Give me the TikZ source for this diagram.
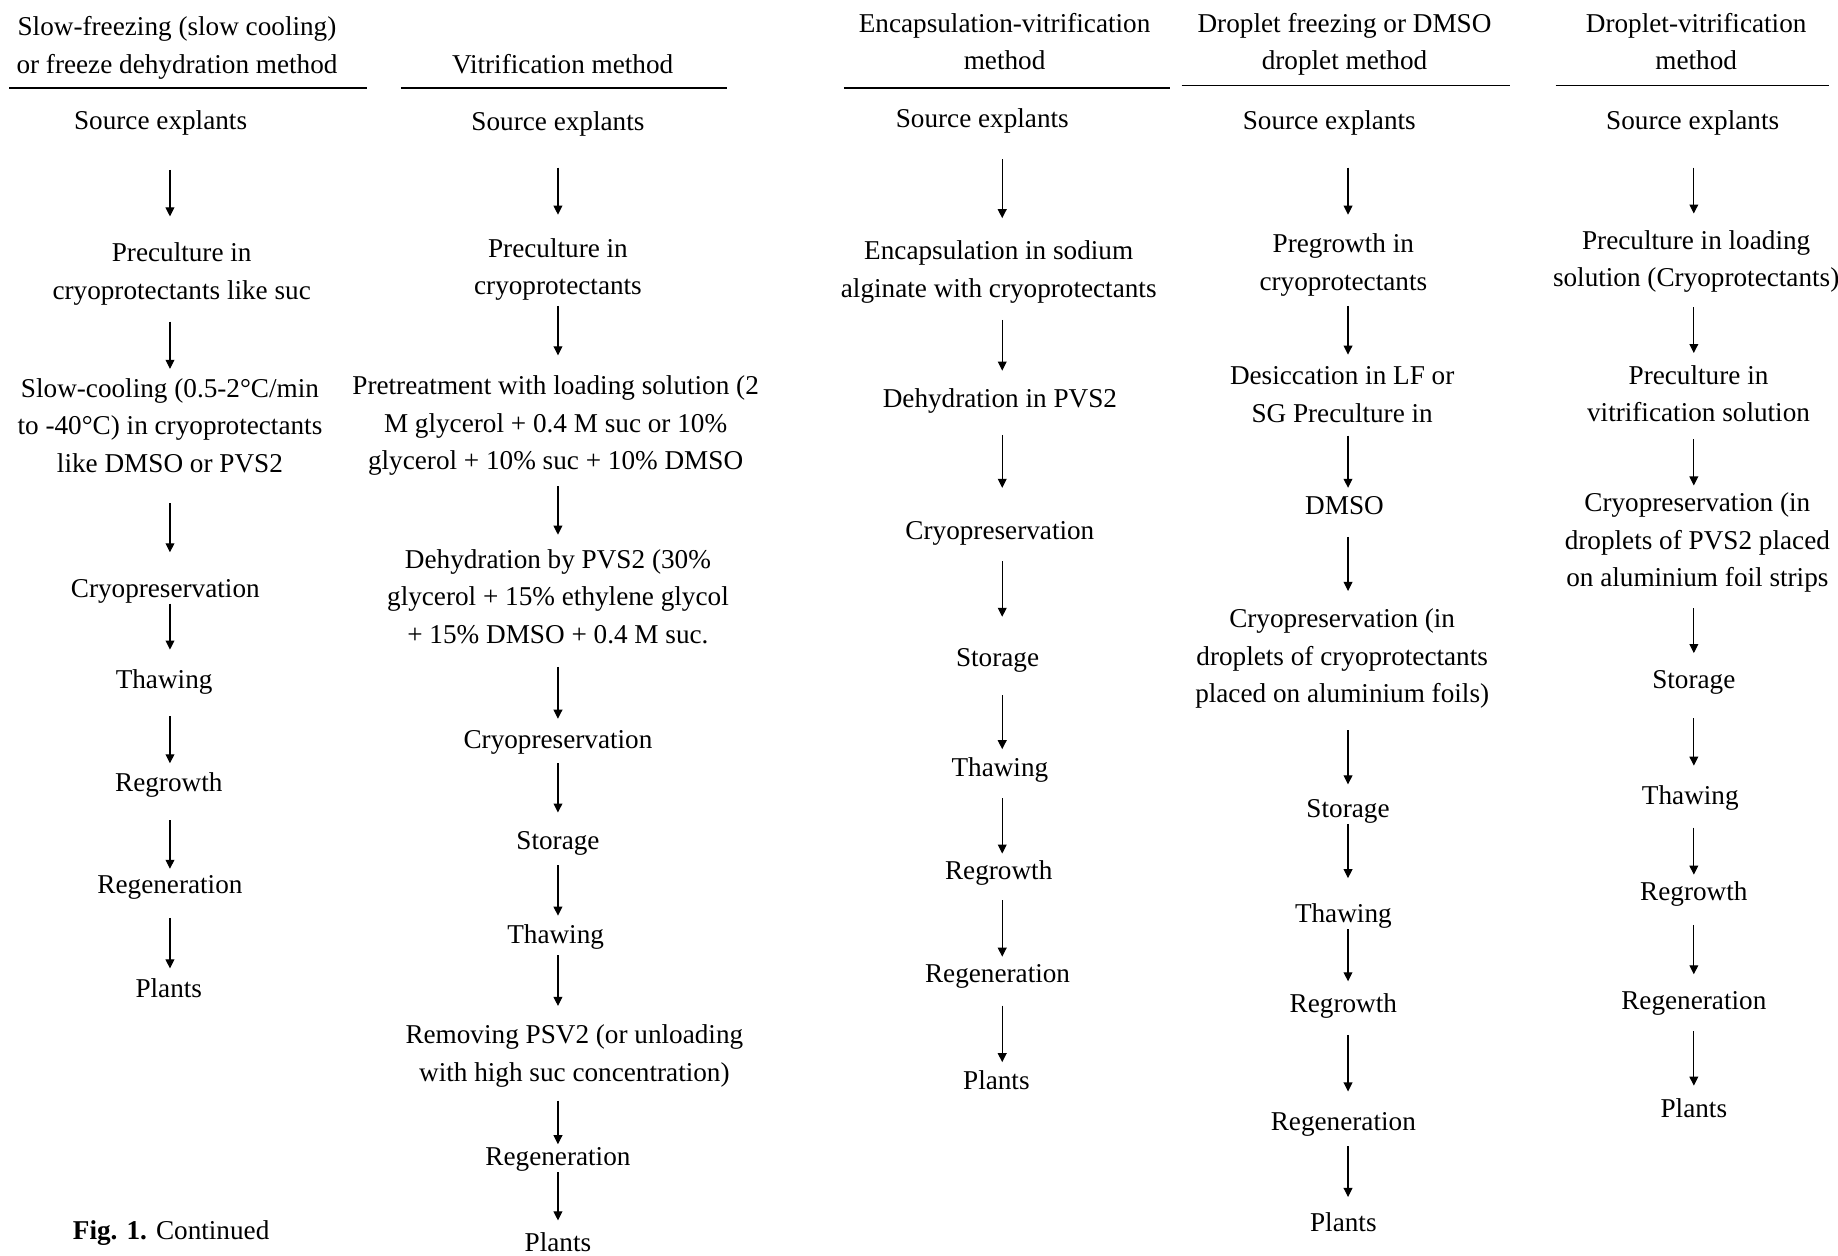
\documentclass[tikz,border=0pt]{standalone}
\usepackage{fontspec}
\setmainfont{Liberation Serif}
\usepackage{tikz}
\usetikzlibrary{arrows.meta, calc}

\newdimen\pxu
\pxu=0.5861pt

\begin{document}
\begin{tikzpicture}[
        x=0.5861pt, y=-0.5861pt,
        stage/.style={align=center, inner sep=0pt, yshift=-1.2pt, font=\fontsize{13.6}{18.75}\selectfont,
            execute at begin node={\vphantom{lg}}, execute at end node={\vphantom{lg}}},
        heading/.style={stage},
        rule/.style={draw, line width=0.8pt},
        flow/.style={draw, line width=0.55pt, -{Triangle[length=4.5pt, width=4.4pt]}}
    ]
        \useasboundingbox (0,0) rectangle (1568,1071);

        % Column 1: slow-freezing
        \node[heading] (hA) at (151,39) {Slow-freezing (slow cooling)\\or freeze dehydration method};
        \draw[rule] (8,75) -- (313,75);
        \coordinate (colA) at (145,0);
        \node[stage] (a1) at (137,103) {Source explants};
        \node[stage] (a2) at (155,231.5) {Preculture in\\cryoprotectants like suc};
        \node[stage] (a3) at (145,363.5) {Slow-cooling (0.5-2°C/min\\to -40°C) in cryoprotectants\\like DMSO or PVS2};
        \node[stage] (a4) at (141,502) {Cryopreservation};
        \node[stage] (a5) at (140,580) {Thawing};
        \node[stage] (a6) at (144,668) {Regrowth};
        \node[stage] (a7) at (145,755) {Regeneration};
        \node[stage] (a8) at (144,843) {Plants};
        \foreach \p/\q/\s/\e in {a1/a2/29/22, a2/a3/14/8, a3/a4/21/22, a4/a5/0/17, a5/a6/18/8, a6/a7/19/5, a7/a8/15/8}
            \draw[flow, shorten <=\s\pxu, shorten >=\e\pxu] (\p.south -| colA) -- (\q.north -| colA);
        \node[stage] (cap) at (146,1050) {\textbf{Fig. 1.} Continued};

        % Column 2: vitrification
        \node[heading] (hB) at (480,55) {Vitrification method};
        \draw[rule] (342,75) -- (620,75);
        \coordinate (colB) at (476,0);
        \node[stage] (b1) at (476,104) {Source explants};
        \node[stage] (b2) at (476,228) {Preculture in\\cryoprotectants};
        \node[stage] (b3) at (474,361) {Pretreatment with loading solution (2\\M glycerol + 0.4 M suc or 10\%\\glycerol + 10\% suc + 10\% DMSO};
        \node[stage] (b4) at (476,509) {Dehydration by PVS2 (30\%\\glycerol + 15\% ethylene glycol\\+ 15\% DMSO + 0.4 M suc.};
        \node[stage] (b5) at (476,631) {Cryopreservation};
        \node[stage] (b6) at (476,717) {Storage};
        \node[stage] (b7) at (474,797) {Thawing};
        \node[stage] (b8) at (490,899) {Removing PSV2 (or unloading\\with high suc concentration)};
        \node[stage] (b9) at (476,987) {Regeneration};
        \node[stage] (b10) at (476,1060) {Plants};
        \foreach \p/\q/\s/\e in {b1/b2/26/20, b2/b3/4/17, b3/b4/9/12, b4/b5/15/9, b5/b6/7/15, b6/b7/8/7, b7/b8/5/16, b8/b9/11/2, b9/b10/0/10}
            \draw[flow, shorten <=\s\pxu, shorten >=\e\pxu] (\p.south -| colB) -- (\q.north -| colB);

        % Column 3: encapsulation-vitrification
        \node[heading] (hC) at (857,36) {Encapsulation-vitrification\\method};
        \draw[rule] (720,75) -- (998,75);
        \coordinate (colC) at (855,0);
        \node[stage] (c1) at (838,101) {Source explants};
        \node[stage] (c2) at (852,230) {Encapsulation in sodium\\alginate with cryoprotectants};
        \node[stage] (c3) at (853,340) {Dehydration in PVS2};
        \node[stage] (c4) at (853,453) {Cryopreservation};
        \node[stage] (c5) at (851,561) {Storage};
        \node[stage] (c6) at (853,655) {Thawing};
        \node[stage] (c7) at (852,743) {Regrowth};
        \node[stage] (c8) at (851,831) {Regeneration};
        \node[stage] (c9) at (850,922) {Plants};
        \foreach \p/\q/\s/\e in {c1/c2/22/19, c2/c3/14/15, c3/c4/18/28, c4/c5/13/26, c5/c6/19/7, c6/c7/13/6, c7/c8/12/6, c8/c9/14/7}
            \draw[flow, shorten <=\s\pxu, shorten >=\e\pxu] (\p.south -| colC) -- (\q.north -| colC);

        % Column 4: droplet freezing
        \node[heading] (hD) at (1147,36) {Droplet freezing or DMSO\\droplet method};
        \draw[rule] (1008,73) -- (1288,73);
        \coordinate (colD) at (1150,0);
        \node[stage] (d1) at (1134,103) {Source explants};
        \node[stage] (d2) at (1146,224) {Pregrowth in\\cryoprotectants};
        \node[stage] (d3) at (1145,337) {Desiccation in LF or\\SG Preculture in};
        \node[stage] (d4) at (1147,431) {DMSO};
        \node[stage] (d5) at (1145,560) {Cryopreservation (in\\droplets of cryoprotectants\\placed on aluminium foils)};
        \node[stage] (d6) at (1150,690) {Storage};
        \node[stage] (d7) at (1146,779) {Thawing};
        \node[stage] (d8) at (1146,856) {Regrowth};
        \node[stage] (d9) at (1146,957) {Regeneration};
        \node[stage] (d10) at (1146,1043) {Plants};
        \foreach \p/\q/\s/\e in {d1/d2/27/16, d2/d3/8/10, d3/d4/6/6, d4/d5/14/15, d5/d6/18/12, d6/d7/0/21, d7/d8/1/10, d8/d9/14/17, d9/d10/8/13}
            \draw[flow, shorten <=\s\pxu, shorten >=\e\pxu] (\p.south -| colD) -- (\q.north -| colD);

        % Column 5: droplet-vitrification
        \node[heading] (hE) at (1447,36) {Droplet-vitrification\\method};
        \draw[rule] (1327,73) -- (1560,73);
        \coordinate (colE) at (1445,0);
        \node[stage] (e1) at (1444,103) {Source explants};
        \node[stage] (e2) at (1447,221) {Preculture in loading\\solution (Cryoprotectants)};
        \node[stage] (e3) at (1449,336) {Preculture in\\vitrification solution};
        \node[stage] (e4) at (1448,461) {Cryopreservation (in\\droplets of PVS2 placed\\on aluminium foil strips};
        \node[stage] (e5) at (1445,580) {Storage};
        \node[stage] (e6) at (1442,679) {Thawing};
        \node[stage] (e7) at (1445,761) {Regrowth};
        \node[stage] (e8) at (1445,854) {Regeneration};
        \node[stage] (e9) at (1445,946) {Plants};
        \foreach \p/\q/\s/\e in {e1/e2/27/14, e2/e3/12/10, e3/e4/10/6, e4/e5/13/14, e5/e6/20/17, e6/e7/14/6, e7/e8/15/14, e8/e9/13/11}
            \draw[flow, shorten <=\s\pxu, shorten >=\e\pxu] (\p.south -| colE) -- (\q.north -| colE);

    \end{tikzpicture}
\end{document}
